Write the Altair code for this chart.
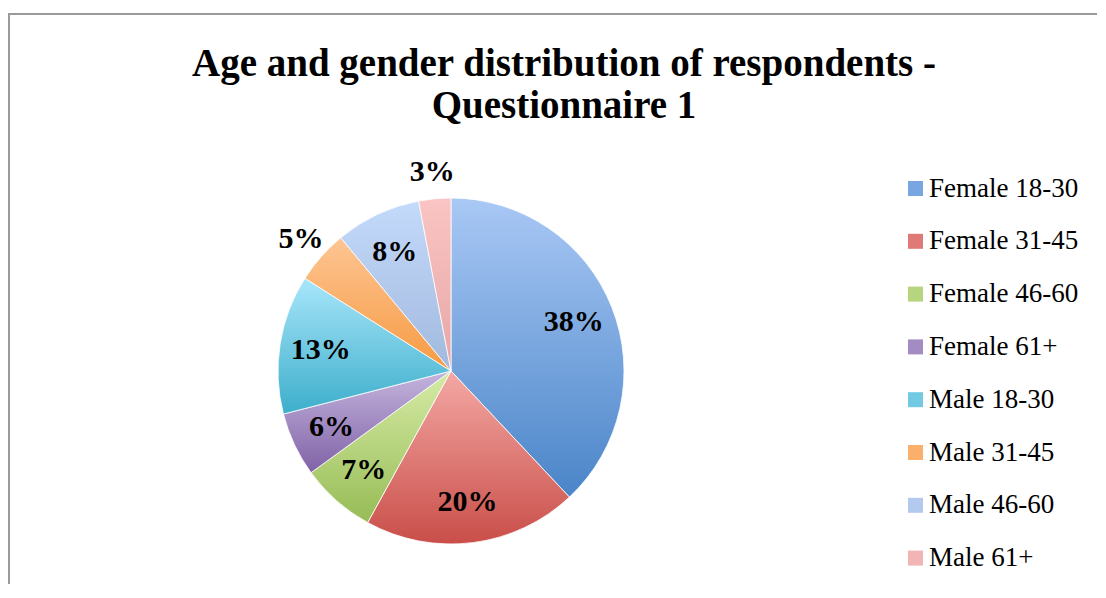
import altair as alt
import pandas as pd

# ---- data ----
categories = ["Female 18-30", "Female 31-45", "Female 46-60", "Female 61+",
              "Male 18-30", "Male 31-45", "Male 46-60", "Male 61+"]
percents = [38, 20, 7, 6, 13, 5, 8, 3]
labels = ["38%", "20%", "7%", "6%", "13%", "5%", "8%", "3%"]

title_lines = ["Age and gender distribution of respondents -", "Questionnaire 1"]

# ---- styles ----
colors_top = ["#A9C8F5", "#F4A8A4", "#D6EBA6", "#C4B5DD", "#A8E6FA", "#FDC593", "#C4DAFB", "#FAC5C4"]
colors_bottom = ["#4A85C8", "#C94E49", "#97BC56", "#8062A6", "#3DAECB", "#F79A42", "#A1B9DE", "#E6A6A5"]
colors_mid = ["#78A6E0", "#E07A76", "#B7D47E", "#A28CC2", "#72CAE2", "#FAB06A", "#B3CAEE", "#F0B5B4"]

df = pd.DataFrame({
    "category": categories,
    "pct": percents,
    "label": labels,
    "idx": list(range(len(categories))),
})

W, H = 1088, 570
CX, CY, R = 442, 357, 173

conditions = []
for c, top, bot in zip(categories, colors_top, colors_bottom):
    conditions.append({
        "test": f"datum.category === '{c}'",
        "value": {
            "gradient": "linear", "x1": 0, "y1": 0, "x2": 0, "y2": 1,
            "stops": [{"offset": 0, "color": top}, {"offset": 1, "color": bot}],
        },
    })

base = alt.Chart(df)

arcs = base.mark_arc(outerRadius=R, stroke="white", strokeWidth=0.8).encode(
    theta=alt.Theta("pct:Q", stack=True),
    order=alt.Order("idx:Q"),
    x=alt.value(CX),
    y=alt.value(CY),
    color=alt.Color(
        "category:N",
        scale=alt.Scale(domain=categories, range=colors_mid),
        condition=conditions,
        legend=alt.Legend(
            orient="none", legendX=893, legendY=161, title=None,
            symbolType="square", symbolSize=225, symbolStrokeWidth=0,
            labelFont="Liberation Serif", labelFontSize=27, labelColor="black",
            rowPadding=24.8, labelOffset=0, labelLimit=300,
        ),
    ),
)

text_style = dict(font="Liberation Serif", fontWeight="bold", fontSize=30,
                  color="black", align="center", baseline="middle")

inner_texts = base.transform_calculate(
    shown="datum.pct > 5 ? datum.label : ''"
).mark_text(radius=132, **text_style).encode(
    theta=alt.Theta("pct:Q", stack=True),
    order=alt.Order("idx:Q"),
    x=alt.value(CX),
    y=alt.value(CY),
    text="shown:N",
)

outer_texts = base.transform_calculate(
    shown="datum.pct <= 5 ? datum.label : ''"
).mark_text(radius=200, **text_style).encode(
    theta=alt.Theta("pct:Q", stack=True),
    order=alt.Order("idx:Q"),
    x=alt.value(CX),
    y=alt.value(CY),
    text="shown:N",
)

title_df = pd.DataFrame({"t": ["\n".join(title_lines)]})
title = alt.Chart(title_df).mark_text(
    font="Liberation Serif", fontWeight="bold", fontSize=39, color="black",
    align="center", baseline="alphabetic", lineBreak="\n", lineHeight=42,
).encode(
    text="t:N",
    x=alt.value(555),
    y=alt.value(62),
)

frame_df = pd.DataFrame({"f": [0]})
frame = alt.Chart(frame_df).mark_rect(
    fill=None, stroke="#9a9a9a", strokeWidth=2,
).encode(
    x=alt.value(0), x2=alt.value(3000),
    y=alt.value(0), y2=alt.value(3000),
)

chart = alt.layer(frame, arcs, inner_texts, outer_texts, title).properties(
    width=W, height=H,
    padding={"left": 1, "top": 6, "right": 0, "bottom": 0},
    autosize=alt.AutoSizeParams(type="none"),
    background="white",
).configure_view(stroke=None)

chart.save("out.html", embed_options={"renderer": "svg", "actions": False})
